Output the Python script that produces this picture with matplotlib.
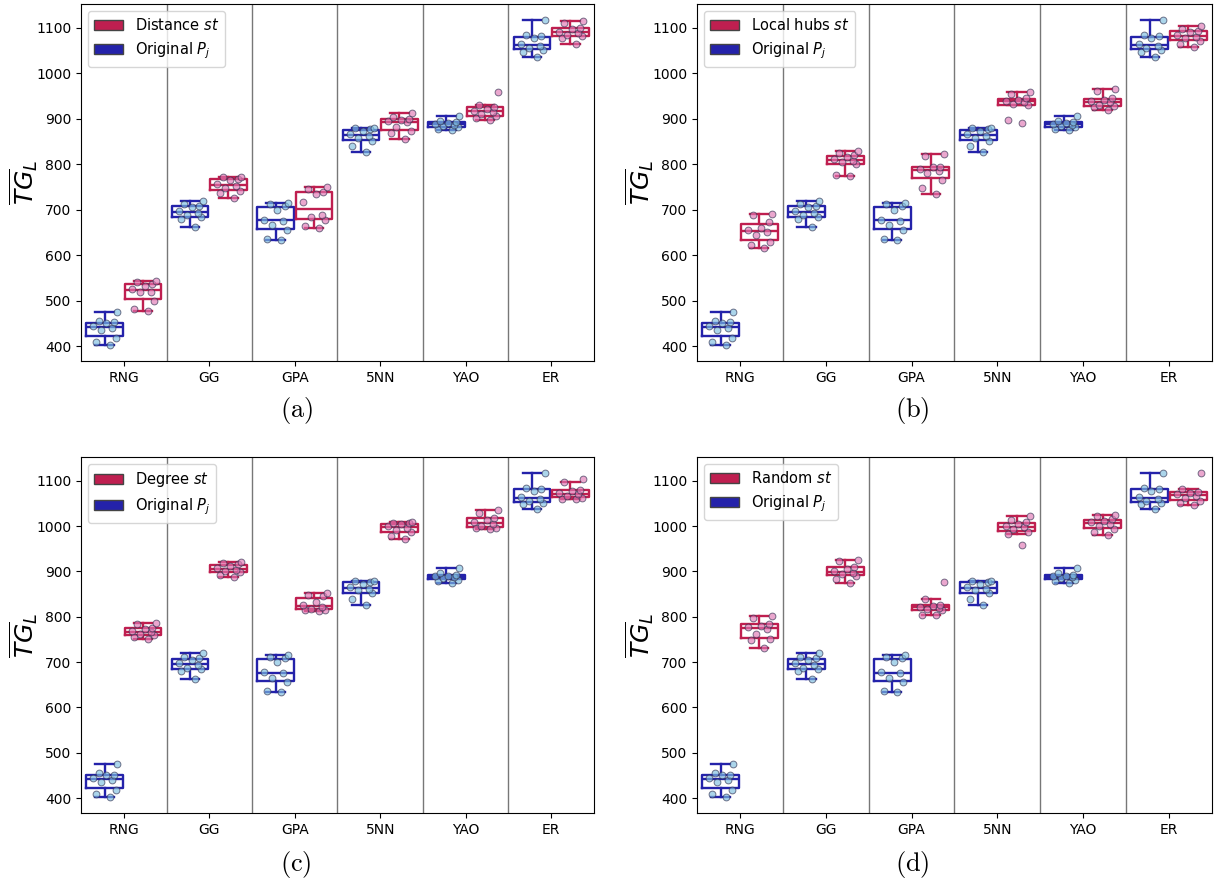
import matplotlib
matplotlib.use("Agg")
import matplotlib.pyplot as plt
from matplotlib.patches import Patch
import numpy as np

plt.rcParams["mathtext.fontset"] = "dejavusans"

categories = ["RNG", "GG", "GPA", "5NN", "YAO", "ER"]

# Original P_j (same reference runs in every panel)
original = {
    "RNG": [403, 409, 417, 435, 439, 444, 451, 452, 456, 475],
    "GG":  [662, 680, 684, 688, 693, 697, 705, 708, 712, 720],
    "GPA": [633, 636, 656, 666, 676, 678, 700, 708, 712, 715],
    "5NN": [826, 840, 852, 858, 862, 866, 873, 877, 879, 880],
    "YAO": [875, 878, 882, 885, 887, 889, 891, 893, 896, 907],
    "ER":  [1037, 1048, 1052, 1056, 1060, 1064, 1078, 1082, 1085, 1117],
}

distance_st = {
    "RNG": [477, 482, 500, 518, 520, 525, 533, 537, 540, 544],
    "GG":  [725, 737, 742, 748, 752, 757, 766, 768, 771, 773],
    "GPA": [660, 664, 678, 684, 688, 716, 734, 740, 745, 750],
    "5NN": [856, 868, 874, 882, 892, 895, 897, 900, 903, 913],
    "YAO": [897, 902, 906, 910, 916, 918, 922, 927, 930, 958],
    "ER":  [1065, 1078, 1082, 1085, 1088, 1092, 1097, 1100, 1111, 1115],
}

local_hubs_st = {
    "RNG": [615, 622, 630, 645, 651, 656, 660, 673, 689, 690],
    "GG":  [775, 776, 800, 805, 808, 812, 815, 820, 825, 830],
    "GPA": [735, 748, 766, 780, 786, 790, 793, 795, 818, 822],
    "5NN": [890, 897, 930, 932, 938, 940, 942, 945, 955, 958],
    "YAO": [920, 925, 928, 930, 936, 940, 942, 945, 962, 965],
    "ER":  [1058, 1065, 1072, 1078, 1080, 1085, 1090, 1093, 1097, 1105],
}

degree_st = {
    "RNG": [752, 755, 760, 763, 766, 768, 773, 775, 785, 787],
    "GG":  [888, 893, 898, 900, 903, 908, 912, 916, 918, 920],
    "GPA": [812, 814, 816, 818, 821, 825, 832, 845, 848, 853],
    "5NN": [972, 978, 986, 992, 996, 1000, 1004, 1006, 1007, 1008],
    "YAO": [994, 995, 996, 1000, 1004, 1008, 1014, 1018, 1028, 1035],
    "ER":  [1060, 1060, 1063, 1066, 1070, 1072, 1077, 1080, 1097, 1103],
}

random_st = {
    "RNG": [732, 748, 750, 762, 774, 777, 780, 785, 797, 802],
    "GG":  [875, 884, 890, 895, 897, 900, 905, 910, 922, 926],
    "GPA": [803, 805, 815, 818, 820, 822, 824, 826, 840, 877],
    "5NN": [958, 983, 988, 994, 997, 1000, 1004, 1008, 1013, 1022],
    "YAO": [980, 988, 994, 1000, 1004, 1008, 1012, 1015, 1022, 1025],
    "ER":  [1046, 1050, 1055, 1062, 1066, 1070, 1072, 1075, 1082, 1117],
}

panels = [
    ("Distance $st$", distance_st, "(a)"),
    ("Local hubs $st$", local_hubs_st, "(b)"),
    ("Degree $st$", degree_st, "(c)"),
    ("Random $st$", random_st, "(d)"),
]

BLUE = "#2422aa"
RED = "#bf1f50"
BLUE_PT = "#7fbfe0"
RED_PT = "#e078b4"

# fixed horizontal spread for the strip points
jitter = np.array([0.06, -0.10, 0.13, -0.04, 0.09, -0.13, 0.02, 0.11, -0.07, 0.15])

fig = plt.figure(figsize=(12.17, 8.88), dpi=100)

axes_pos = [
    [0.0666, 0.5935, 0.4214, 0.4020],
    [0.5727, 0.5935, 0.4232, 0.4020],
    [0.0666, 0.0845, 0.4214, 0.4010],
    [0.5727, 0.0845, 0.4232, 0.4010],
]
caption_pos = [(0.2433, 0.538), (0.7494, 0.538), (0.2433, 0.026), (0.7494, 0.026)]

offset = 0.225
bw = 0.43


def draw_group(ax, values, pos, line_color, pt_color, zo):
    ax.boxplot(
        [values], positions=[pos], widths=bw, showfliers=False,
        patch_artist=False, manage_ticks=False,
        boxprops=dict(color=line_color, linewidth=1.7),
        medianprops=dict(color=line_color, linewidth=1.7),
        whiskerprops=dict(color=line_color, linewidth=1.7),
        capprops=dict(color=line_color, linewidth=1.7),
    )
    ax.scatter(pos + jitter, values, s=24, color=pt_color, alpha=0.65,
               edgecolors="#303050", linewidths=0.7, zorder=zo)


for i, (label, data, cap) in enumerate(panels):
    ax = fig.add_axes(axes_pos[i])
    for k, cat in enumerate(categories):
        draw_group(ax, original[cat], k - offset, BLUE, BLUE_PT, 3)
        draw_group(ax, data[cat], k + offset, RED, RED_PT, 3)
    for b in np.arange(0.5, len(categories) - 0.5, 1.0):
        ax.axvline(b, color="#777777", linewidth=1.0, zorder=0)
    ax.set_xlim(-0.5, len(categories) - 0.5)
    ax.set_xticks(range(len(categories)))
    ax.set_xticklabels(categories, fontsize=10)
    ax.set_yticks(range(400, 1101, 100))
    ax.tick_params(axis="y", labelsize=10)
    ax.set_ylabel(r"$\overline{TG}_L$", fontsize=18)
    ax.yaxis.set_label_coords(-0.08, 0.5)
    handles = [
        Patch(facecolor=RED, edgecolor="#444444", label=label),
        Patch(facecolor=BLUE, edgecolor="#444444", label="Original $P_j$"),
    ]
    ax.legend(handles=handles, loc="upper left", fontsize=10.5,
              handlelength=2.0, framealpha=0.8)
    fig.text(caption_pos[i][0], caption_pos[i][1], r"$\mathrm{" + cap + "}$",
             ha="center", va="center", fontsize=19, math_fontfamily="cm")

fig.savefig("out.png", dpi=100)
